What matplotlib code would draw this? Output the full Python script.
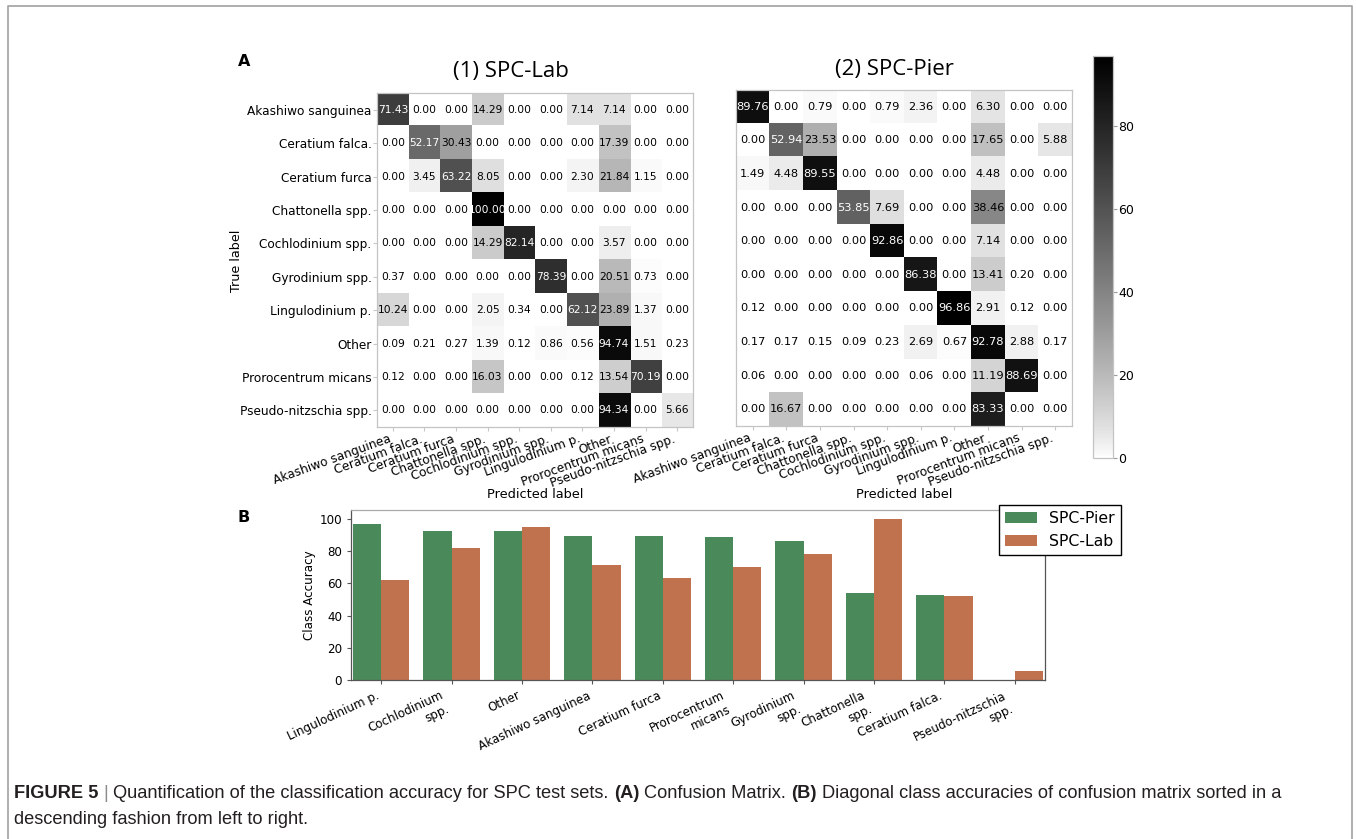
import numpy as np
import matplotlib
matplotlib.use("Agg")
import matplotlib.pyplot as plt
from matplotlib.patches import Rectangle
from matplotlib.lines import Line2D
from matplotlib.colors import ListedColormap

# ---------------------------------------------------------------- data
classes = ["Akashiwo sanguinea", "Ceratium falca.", "Ceratium furca",
           "Chattonella spp.", "Cochlodinium spp.", "Gyrodinium spp.",
           "Lingulodinium p.", "Other", "Prorocentrum micans",
           "Pseudo-nitzschia spp."]

# row-normalised confusion matrices (%), rows = true, cols = predicted
cm_lab = np.array([
    [71.43, 0.00, 0.00, 14.29, 0.00, 0.00, 7.14, 7.14, 0.00, 0.00],
    [0.00, 52.17, 30.43, 0.00, 0.00, 0.00, 0.00, 17.39, 0.00, 0.00],
    [0.00, 3.45, 63.22, 8.05, 0.00, 0.00, 2.30, 21.84, 1.15, 0.00],
    [0.00, 0.00, 0.00, 100.00, 0.00, 0.00, 0.00, 0.00, 0.00, 0.00],
    [0.00, 0.00, 0.00, 14.29, 82.14, 0.00, 0.00, 3.57, 0.00, 0.00],
    [0.37, 0.00, 0.00, 0.00, 0.00, 78.39, 0.00, 20.51, 0.73, 0.00],
    [10.24, 0.00, 0.00, 2.05, 0.34, 0.00, 62.12, 23.89, 1.37, 0.00],
    [0.09, 0.21, 0.27, 1.39, 0.12, 0.86, 0.56, 94.74, 1.51, 0.23],
    [0.12, 0.00, 0.00, 16.03, 0.00, 0.00, 0.12, 13.54, 70.19, 0.00],
    [0.00, 0.00, 0.00, 0.00, 0.00, 0.00, 0.00, 94.34, 0.00, 5.66],
])

cm_pier = np.array([
    [89.76, 0.00, 0.79, 0.00, 0.79, 2.36, 0.00, 6.30, 0.00, 0.00],
    [0.00, 52.94, 23.53, 0.00, 0.00, 0.00, 0.00, 17.65, 0.00, 5.88],
    [1.49, 4.48, 89.55, 0.00, 0.00, 0.00, 0.00, 4.48, 0.00, 0.00],
    [0.00, 0.00, 0.00, 53.85, 7.69, 0.00, 0.00, 38.46, 0.00, 0.00],
    [0.00, 0.00, 0.00, 0.00, 92.86, 0.00, 0.00, 7.14, 0.00, 0.00],
    [0.00, 0.00, 0.00, 0.00, 0.00, 86.38, 0.00, 13.41, 0.20, 0.00],
    [0.12, 0.00, 0.00, 0.00, 0.00, 0.00, 96.86, 2.91, 0.12, 0.00],
    [0.17, 0.17, 0.15, 0.09, 0.23, 2.69, 0.67, 92.78, 2.88, 0.17],
    [0.06, 0.00, 0.00, 0.00, 0.00, 0.06, 0.00, 11.19, 88.69, 0.00],
    [0.00, 16.67, 0.00, 0.00, 0.00, 0.00, 0.00, 83.33, 0.00, 0.00],
])

# wrapped names used under the bar chart
bar_names = {
    "Akashiwo sanguinea": "Akashiwo sanguinea",
    "Ceratium falca.": "Ceratium falca.",
    "Ceratium furca": "Ceratium furca",
    "Chattonella spp.": "Chattonella\nspp.",
    "Cochlodinium spp.": "Cochlodinium\nspp.",
    "Gyrodinium spp.": "Gyrodinium\nspp.",
    "Lingulodinium p.": "Lingulodinium p.",
    "Other": "Other",
    "Prorocentrum micans": "Prorocentrum\nmicans",
    "Pseudo-nitzschia spp.": "Pseudo-nitzschia\nspp.",
}

series_names = ["SPC-Pier", "SPC-Lab"]
series_colors = ["#4a8a5a", "#c0724e"]

# caption pieces: (text, weight, colour)
caption_line1 = [
    ("FIGURE 5", "bold", "#231f20"),
    ("|", "normal", "#8c8c8c"),
    ("Quantification of the classification accuracy for SPC test sets.",
     "normal", "#231f20"),
    ("(A)", "bold", "#231f20"),
    ("Confusion Matrix.", "normal", "#231f20"),
    ("(B)", "bold", "#231f20"),
    ("Diagonal class accuracies of confusion matrix sorted in a",
     "normal", "#231f20"),
]
caption_line2 = "descending fashion from left to right."

# ---------------------------------------------------------------- figure
W, H = 1356, 839
plt.rcParams["font.family"] = ["DejaVu Sans"]

fig = plt.figure(figsize=(W / 100, H / 100), dpi=100)


def fx(px):
    return px / W


def fy(py):
    return 1 - py / H


def axes_px(x0, y0, x1, y1):
    return fig.add_axes([fx(x0), fy(y1), (x1 - x0) / W, (y1 - y0) / H])


# white-to-black ramp, slightly darker in the light range
_t = np.linspace(0, 1, 256)
_g = 1 - _t ** 0.82
grey_cmap = ListedColormap(np.column_stack([_g, _g, _g]), name="greyramp")

# page frame
fig.add_artist(Line2D([fx(8), fx(8), fx(1352), fx(1352)],
                      [-0.01, fy(6), fy(6), -0.01],
                      transform=fig.transFigure, color="#a8a8a8", lw=1.3))

n = len(classes)


def draw_cm(ax, cm, cell_fs, show_y, clip=None):
    im = ax.imshow(cm, cmap=grey_cmap, vmin=0, vmax=cm.max(), aspect="auto",
                   interpolation="nearest")
    thresh = cm.max() / 2.0
    for i in range(n):
        for j in range(n):
            t = ax.text(j, i, f"{cm[i, j]:.2f}", ha="center", va="center",
                        fontsize=cell_fs,
                        color="white" if cm[i, j] > thresh else "black")
            if clip is not None:
                box = clip(i, j)
                if box is not None:
                    r = Rectangle((box[0], -0.5), box[1] - box[0], n,
                                  transform=ax.transData)
                    t.set_clip_path(r)
    ax.set_xticks(range(n))
    ax.set_xticklabels(classes, rotation=20, ha="right", fontsize=8.7)
    ax.set_yticks(range(n))
    ax.tick_params(axis="both", length=3, color="#c8c8c8", pad=1)
    if show_y:
        ax.set_yticklabels(classes, fontsize=8.7)
    else:
        ax.set_yticklabels([])
        ax.tick_params(axis="y", length=0)
    for s in ax.spines.values():
        s.set_edgecolor("#c4c4c4")
        s.set_linewidth(0.9)
    return im


ax_lab = axes_px(377, 93, 693, 427)
draw_cm(ax_lab, cm_lab, 7.7, True,
        clip=lambda i, j: (2.5, 3.36) if j == 3 else None)

ax_pier = axes_px(736, 90, 1072, 426)
im_pier = draw_cm(ax_pier, cm_pier, 8.2, False,
                  clip=lambda i, j: (8.7, 9.6) if (j == 9 and i >= 7) else None)

cax = axes_px(1093, 56, 1113, 458)
cb = fig.colorbar(im_pier, cax=cax, ticks=[0, 20, 40, 60, 80])
cb.outline.set_edgecolor("#c4c4c4")
cb.outline.set_linewidth(0.9)
cax.tick_params(labelsize=9, length=3, color="#999999", pad=1)

fig.text(fx(511), fy(72), "(1) SPC-Lab", ha="center", va="center",
         fontsize=16, family="Open Sans")
fig.text(fx(894), fy(70), "(2) SPC-Pier", ha="center", va="center",
         fontsize=16, family="Open Sans")
fig.text(fx(236), fy(261), "True label", rotation=90, ha="center",
         va="center", fontsize=9.2)
fig.text(fx(535), fy(495), "Predicted label", ha="center", va="center",
         fontsize=9.3)
fig.text(fx(904), fy(495), "Predicted label", ha="center", va="center",
         fontsize=9.3)
fig.text(fx(244), fy(62), "A", ha="center", va="center", fontsize=11.5,
         fontweight="bold")
fig.text(fx(244), fy(517), "B", ha="center", va="center", fontsize=11.5,
         fontweight="bold")

# ---------------------------------------------------------------- bars
pier_diag = np.diag(cm_pier)
lab_diag = np.diag(cm_lab)
order = np.argsort(-pier_diag, kind="stable")

ax_bar = axes_px(351, 510, 1045, 680)
x = np.arange(n)
bw = 0.4
ax_bar.bar(x - bw / 2, pier_diag[order], bw, color=series_colors[0],
           label=series_names[0])
ax_bar.bar(x + bw / 2, lab_diag[order], bw, color=series_colors[1],
           label=series_names[1])
ax_bar.set_xlim(-0.43, n - 0.57)
ax_bar.set_ylim(0, 105.6)
ax_bar.set_yticks([0, 20, 40, 60, 80, 100])
ax_bar.tick_params(axis="y", labelsize=8.6, length=3, color="#555555")
ax_bar.set_xticks(x)
ax_bar.set_xticklabels([bar_names[classes[k]] for k in order], rotation=25,
                       ha="right", fontsize=8.6)
ax_bar.tick_params(axis="x", length=3, color="#555555")
for side, s in ax_bar.spines.items():
    s.set_edgecolor("#aaaaaa" if side == "top" else "#555555")
    s.set_linewidth(0.9)
fig.text(fx(309), fy(595), "Class Accuracy", rotation=90, ha="center",
         va="center", fontsize=8.6)

leg = ax_bar.legend(loc="upper right", bbox_to_anchor=(fx(1121), fy(505)),
                    bbox_transform=fig.transFigure, borderaxespad=0,
                    fontsize=11.3, fancybox=False, framealpha=1,
                    edgecolor="black")
leg.get_frame().set_linewidth(1.0)

# ---------------------------------------------------------------- caption
cap_fs = 13.15
cap_font = "Liberation Sans"
renderer = fig.canvas.get_renderer()


def text_width(s, weight):
    t = fig.text(0, 0, s, fontsize=cap_fs, family=cap_font, fontweight=weight)
    w = t.get_window_extent(renderer).width
    t.remove()
    return w


space_px = text_width("a a", "normal") - text_width("aa", "normal")
cx = 14.0
for piece, weight, colour in caption_line1:
    fig.text(fx(cx), fy(793), piece, ha="left", va="center", fontsize=cap_fs,
             family=cap_font, fontweight=weight, color=colour)
    cx += text_width(piece, weight) + space_px

fig.text(fx(14), fy(820), caption_line2, ha="left", va="center",
         fontsize=cap_fs, family=cap_font, color="#231f20")

fig.savefig("out.png", dpi=100)
